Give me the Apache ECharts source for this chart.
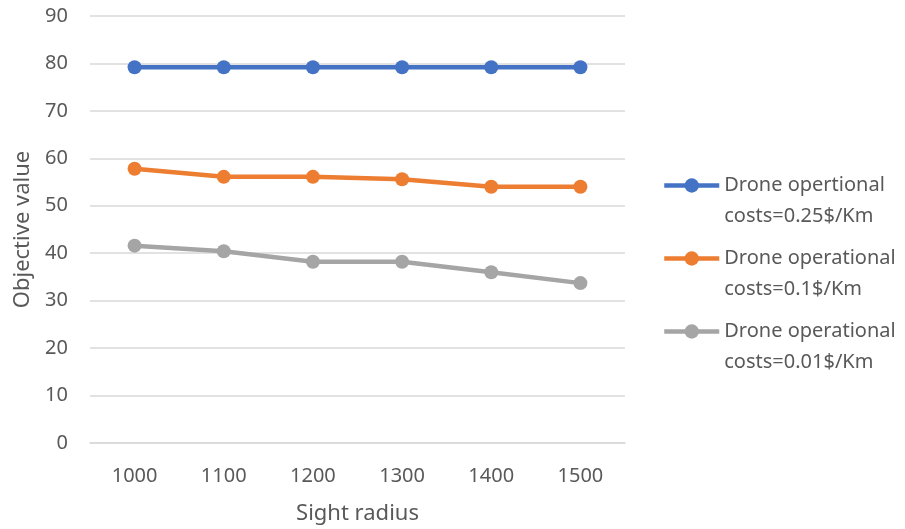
<!DOCTYPE html>
<html>
<head>
<meta charset="utf-8">
<script src="https://cdn.jsdelivr.net/npm/echarts@6/dist/echarts.min.js"></script>
<style>
  html, body { margin: 0; padding: 0; background: #fff; overflow: hidden; }
  #chart { width: 905px; height: 529px; }
</style>
</head>
<body>
<div id="chart"></div>
<script>
// Sight radius categories
var radii = ['1000', '1100', '1200', '1300', '1400', '1500'];

// Objective value per drone operational cost
var cost025 = [79.2, 79.2, 79.2, 79.2, 79.2, 79.2];
var cost010 = [57.8, 56.1, 56.1, 55.6, 54.0, 54.0];
var cost001 = [41.6, 40.4, 38.2, 38.2, 36.0, 33.7];

var seriesNames = [
  'Drone opertional\ncosts=0.25$/Km',
  'Drone operational\ncosts=0.1$/Km',
  'Drone operational\ncosts=0.01$/Km'
];
var seriesColors = ['#4472c4', '#ed7d31', '#a5a5a5'];
var seriesData = [cost025, cost010, cost001];

var FONT = 'Noto Sans';
var TEXT = '#595959';

var chart = echarts.init(document.getElementById('chart'), null, { renderer: 'canvas' });

chart.setOption({
  animation: false,
  backgroundColor: '#ffffff',
  textStyle: { fontFamily: FONT, color: TEXT },
  grid: { left: 90, right: 280, top: 16, bottom: 86, outerBoundsMode: 'none', containLabel: false },
  legend: {
    orient: 'vertical',
    left: 662,
    top: 139,
    padding: 0,
    itemWidth: 55,
    itemHeight: 18,
    itemGap: -20,
    lineStyle: { width: 4.5 },
    // a leading empty line keeps the marker level with the first text line
    formatter: function (name) { return '\n' + name; },
    textStyle: { fontFamily: FONT, fontSize: 20, color: TEXT, lineHeight: 31 },
    data: seriesNames
  },
  xAxis: {
    type: 'category',
    data: radii,
    boundaryGap: true,
    name: 'Sight radius',
    nameLocation: 'middle',
    nameGap: 60,
    nameTextStyle: { fontFamily: FONT, fontSize: 22, color: TEXT },
    axisLine: { show: true, lineStyle: { color: '#d9d9d9', width: 1.5 } },
    axisTick: { show: false },
    axisLabel: { fontFamily: FONT, fontSize: 20, color: TEXT, margin: 23 }
  },
  yAxis: {
    type: 'value',
    min: 0,
    max: 90,
    interval: 10,
    name: 'Objective value',
    nameLocation: 'middle',
    nameGap: 55,
    nameTextStyle: { fontFamily: FONT, fontSize: 22, color: TEXT },
    axisLine: { show: false },
    axisTick: { show: false },
    axisLabel: { fontFamily: FONT, fontSize: 20, color: TEXT, margin: 22 },
    splitLine: { lineStyle: { color: '#d9d9d9', width: 1.5 } }
  },
  series: seriesNames.map(function (name, i) {
    return {
      name: name,
      type: 'line',
      data: seriesData[i],
      symbol: 'circle',
      symbolSize: 14,
      showSymbol: true,
      lineStyle: { color: seriesColors[i], width: 4.5 },
      itemStyle: { color: seriesColors[i] }
    };
  })
});
</script>
</body>
</html>
